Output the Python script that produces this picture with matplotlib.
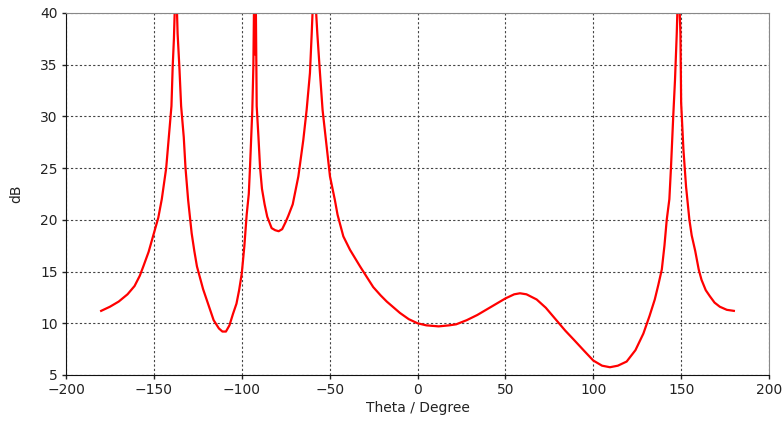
import matplotlib
matplotlib.use('Agg')
import matplotlib.pyplot as plt

# theta (deg) and level (dB)
theta = [-180, -175, -170, -165, -161, -158, -156, -153, -150.5, -147.5,
         -145.5, -143, -141, -140, -139.3, -138.6, -138, -137, -136.5, -135.5,
         -134.5, -133, -132, -130.5, -128.5, -127, -125.5, -122, -119, -116,
         -113, -111, -109, -107, -105, -103, -101.5, -100, -98.5, -97.2,
         -96, -95.3, -94, -93.4, -93, -92.5, -92, -91.5, -90.5, -89.6,
         -88.5, -87, -85.5, -83, -81, -79, -77, -75, -73.5, -71,
         -69, -67.8, -65, -63.1, -61.2, -60.2, -59.5, -58, -57, -55.5,
         -54, -52.1, -49.8, -47, -45.5, -42.2, -38.4, -32.7, -25.2, -21,
         -17.5, -10, -5, 0, 5, 12, 18, 22, 28, 34,
         40, 46, 50, 55, 58.3, 62, 67.8, 73, 79, 84,
         89, 95, 100, 105, 109.5, 114, 119, 124, 128.5, 132,
         135, 137, 139, 140.5, 141.8, 143.3, 144.2, 145.5, 146.5, 147.5,
         148, 149, 149.6, 150, 151.3, 152.8, 154.7, 156, 158, 160,
         161.6, 164, 166.4, 169, 172, 176, 180]
level = [11.2, 11.6, 12.1, 12.8, 13.6, 14.6, 15.5, 16.9, 18.4, 20.2,
         22.0, 25.0, 29.0, 31.0, 34.8, 37.5, 41.0, 41.0, 38.0, 34.8,
         31.0, 28.0, 25.0, 21.9, 18.7, 17.0, 15.5, 13.3, 11.8, 10.3,
         9.5, 9.2, 9.2, 9.8, 10.9, 11.9, 13.2, 14.8, 17.5, 20.5,
         22.5, 25.1, 30.6, 34.8, 41.0, 36.0, 41.0, 31.0, 28.0, 25.1,
         23.0, 21.5, 20.3, 19.2, 19.0, 18.9, 19.1, 19.8, 20.4, 21.5,
         23.2, 24.2, 27.7, 30.6, 34.2, 38.0, 41.0, 41.0, 38.0, 34.2,
         30.6, 27.7, 24.2, 21.9, 20.5, 18.4, 17.1, 15.5, 13.5, 12.7,
         12.1, 11.0, 10.4, 10.0, 9.8, 9.7, 9.8, 9.9, 10.3, 10.8,
         11.4, 12.0, 12.4, 12.8, 12.9, 12.8, 12.3, 11.5, 10.3, 9.3,
         8.4, 7.3, 6.4, 5.9, 5.75, 5.9, 6.3, 7.4, 9.0, 10.7,
         12.3, 13.7, 15.2, 17.5, 20.0, 22.0, 25.0, 30.0, 33.5, 38.0,
         41.0, 41.0, 38.0, 31.3, 26.8, 23.2, 20.0, 18.5, 17.0, 15.2,
         14.2, 13.2, 12.6, 12.0, 11.6, 11.3, 11.2]

xticks = [-200, -150, -100, -50, 0, 50, 100, 150, 200]
yticks = [5, 10, 15, 20, 25, 30, 35, 40]

fig = plt.figure(figsize=(7.82, 4.23), dpi=100)
ax = fig.add_axes([0.0844, 0.1135, 0.8990, 0.8558])

ax.plot(theta, level, color='#ff0000', lw=1.6)

ax.set_xlim(-200, 200)
ax.set_ylim(5, 40)
ax.set_xticks(xticks)
ax.set_yticks(yticks)
ax.tick_params(direction='out', length=3, width=1, labelsize=10,
               colors='#222222', pad=3)
ax.grid(True, color='#444444', linestyle=(0, (2, 2)), linewidth=0.8)

for side in ('left', 'bottom'):
    ax.spines[side].set_color('#111111')
for side in ('top', 'right'):
    ax.spines[side].set_color('#888888')

ax.set_xlabel('Theta / Degree', fontsize=10, color='#222222', labelpad=3)
ax.set_ylabel('dB', fontsize=10, color='#222222', labelpad=12)

plt.savefig('out.png', dpi=100)
plt.close()
